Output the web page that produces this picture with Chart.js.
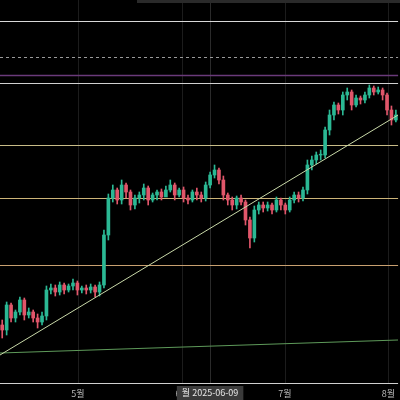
<!DOCTYPE html>
<html>
<head>
<meta charset="utf-8">
<script src="https://cdn.jsdelivr.net/npm/chart.js@4"></script>
<style>
  html, body { margin: 0; padding: 0; background: #000; }
  #wrap { width: 400px; height: 400px; }
</style>
</head>
<body>
<div id="wrap"><canvas id="chart"></canvas></div>
<script>
// daily candles (price units)
const opens = [75,70,95,82,88,100,85,88,82,78,
  84,110,112,108,115,110,114,117,110,112,
  110,113,108,115,165,
  202,210,200,215,208,195,202,205,212,200,205,208,203,210,215,205,210,202,200,208,
  205,202,215,225,230,
  220,205,200,195,202,
  198,180,162,190,195,
  192,195,190,200,195,190,200,
  205,202,210,235,240,
  245,245,270,285,295,
  290,305,308,295,302,300,305,312,308,310,
  305,290,280];
const closes = [70,95,82,88,100,85,88,82,78,84,
  110,112,108,115,110,114,117,110,112,110,
  113,108,115,165,202,
  210,200,215,208,195,202,205,212,200,205,208,203,210,215,205,210,202,200,208,205,
  202,215,225,230,220,
  205,200,195,202,198,
  180,162,190,195,192,
  195,190,200,195,190,200,205,
  202,210,235,240,245,
  245,270,285,295,290,
  305,308,295,302,300,305,312,308,310,305,
  290,280,285];
const highs = [80,98,97,90,103,102,92,90,86,88,
  114,116,115,118,117,116,121,119,114,115,
  116,115,118,170,206,
  215,212,220,217,210,205,208,216,214,207,210,211,214,220,217,212,213,205,210,212,
  208,218,228,235,232,
  224,207,203,204,205,
  200,183,194,198,198,
  198,197,203,202,197,203,208,
  208,213,240,244,248,
  250,273,290,298,297,
  308,312,310,305,304,308,315,314,313,312,
  307,294,290];
const lows = [62,65,78,78,85,80,82,78,72,75,
  80,106,104,105,106,108,110,105,107,106,
  107,103,104,112,160,
  198,196,196,202,190,191,197,200,195,198,200,200,205,208,200,203,198,196,198,200,
  198,199,212,222,216,
  200,195,190,191,195,
  175,152,158,186,188,
  189,186,188,190,186,188,197,
  198,199,206,230,236,
  240,242,265,280,286,
  285,300,290,293,296,297,302,305,306,300,
  285,275,278];

const monthLabels = ['5월', '6월', '7월', '8월'];
const monthPos = [17.1, 40.7, 63.9, 87.3];

// horizontal levels
const levelPrices = [379, 343, 325, 317, 255, 202, 135];
const levelColors = ['#d8d8d8', '#9a9a9a', '#6a3a7a', '#d0d0d0', '#c8bc88', '#ccb478', '#c8a070'];
const levelDashed = [false, true, false, false, false, false, false];

const trendUp = [{x: -0.5, y: 45}, {x: 89.5, y: 285}];
const trendFlat = [{x: -0.5, y: 47}, {x: 89.5, y: 60}];

const crossIndex = 47;
const crossLabel = '월 2025-06-09';

const UP = '#2bb894';
const DOWN = '#e0566a';

const candleColor = closes.map((c, i) => c >= opens[i] ? UP : DOWN);
const wickData = highs.map((h, i) => ({x: i, y: [lows[i], h]}));
const bodyData = closes.map((c, i) => ({x: i, y: [opens[i], c === opens[i] ? c + 0.8 : c]}));

const overlay = {
  id: 'overlay',
  beforeDatasetsDraw(chart) {
    const {ctx, chartArea, scales} = chart;
    ctx.save();
    ctx.strokeStyle = '#1c1c1c';
    ctx.lineWidth = 1;
    monthPos.forEach(p => {
      const x = Math.round(scales.x.getPixelForValue(p)) + 0.5;
      ctx.beginPath(); ctx.moveTo(x, chartArea.top); ctx.lineTo(x, chartArea.bottom); ctx.stroke();
    });
    const cx = Math.round(scales.x.getPixelForValue(crossIndex)) + 0.5;
    ctx.strokeStyle = '#2a2a2a';
    ctx.beginPath(); ctx.moveTo(cx, chartArea.top); ctx.lineTo(cx, chartArea.bottom); ctx.stroke();
    levelPrices.forEach((p, i) => {
      const y = Math.round(scales.y.getPixelForValue(p)) + 0.5;
      ctx.strokeStyle = levelColors[i];
      ctx.lineWidth = i === 2 ? 1.5 : 1;
      ctx.setLineDash(levelDashed[i] ? [3, 3] : []);
      ctx.beginPath(); ctx.moveTo(chartArea.left, y); ctx.lineTo(chartArea.right, y); ctx.stroke();
    });
    ctx.setLineDash([]);
    ctx.strokeStyle = '#d0d0d0';
    ctx.beginPath(); ctx.moveTo(chartArea.left, chartArea.bottom + 0.5); ctx.lineTo(chartArea.right, chartArea.bottom + 0.5); ctx.stroke();
    ctx.restore();
  },
  afterDraw(chart) {
    const {ctx, chartArea, scales} = chart;
    const cx = scales.x.getPixelForValue(crossIndex);
    ctx.save();
    ctx.font = '9px "Noto Sans CJK KR", "Noto Sans", sans-serif';
    const w = ctx.measureText(crossLabel).width + 10;
    ctx.fillStyle = '#3a3a3a';
    ctx.fillRect(cx - w / 2, chartArea.bottom + 3, w, 14);
    ctx.fillStyle = '#e8e8e8';
    ctx.textAlign = 'center';
    ctx.textBaseline = 'middle';
    ctx.fillText(crossLabel, cx, chartArea.bottom + 10);
    ctx.fillStyle = '#2a2a2a';
    ctx.fillRect(137, 0, 263, 3);
    ctx.restore();
  }
};

new Chart(document.getElementById('chart'), {
  type: 'bar',
  data: {
    datasets: [
      {type: 'line', data: trendUp, borderColor: '#c8d8a8', borderWidth: 1, pointRadius: 0, order: 1},
      {type: 'line', data: trendFlat, borderColor: '#5e9a5a', borderWidth: 1, pointRadius: 0, order: 1},
      {data: wickData, backgroundColor: candleColor, barThickness: 1, grouped: false, order: 3},
      {data: bodyData, backgroundColor: candleColor, barThickness: 3, grouped: false, order: 2}
    ]
  },
  plugins: [overlay],
  options: {
    responsive: true,
    maintainAspectRatio: false,
    animation: false,
    layout: {padding: 0},
    plugins: {legend: {display: false}, tooltip: {enabled: false}},
    scales: {
      x: {
        type: 'linear',
        offset: false,
        min: -0.5,
        max: 89.5,
        grid: {display: false, offset: false, drawTicks: false},
        border: {display: false},
        afterBuildTicks(axis) { axis.ticks = monthPos.map(v => ({value: v})); },
        afterFit(axis) { axis.height = 17; },
        ticks: {
          color: '#b8b8b8',
          font: {size: 9, family: '"Noto Sans CJK KR", sans-serif'},
          padding: 5,
          maxRotation: 0,
          callback: (v, i) => monthLabels[i]
        }
      },
      y: {
        display: false,
        min: 17,
        max: 400
      }
    }
  }
});
</script>
</body>
</html>
